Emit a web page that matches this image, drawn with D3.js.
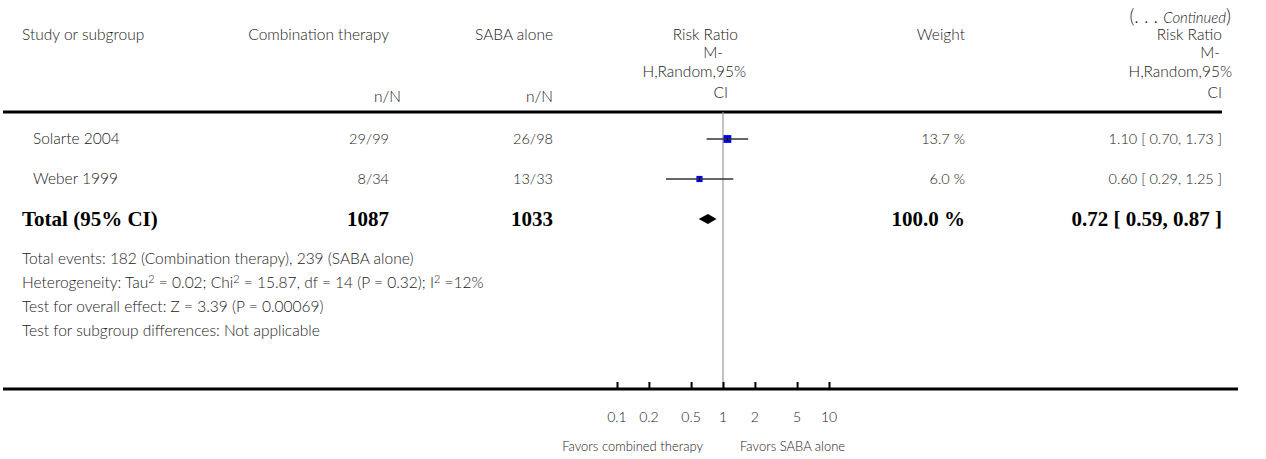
<!DOCTYPE html>
<html>
<head>
<meta charset="utf-8">
<script src="https://cdn.jsdelivr.net/npm/d3@7"></script>
<style>
  html, body { margin: 0; padding: 0; background: #fff; }
  svg { display: block; }
  .txt { font-family: Lato, "Open Sans", sans-serif; font-weight: 300; font-size: 15.5px; fill: #1a1a1a; }
  .num { font-size: 14.5px; }
  .bold { font-family: "Liberation Serif", "DejaVu Serif", serif; font-weight: bold; font-size: 21px; fill: #000; }
</style>
</head>
<body>
<svg id="chart" width="1266" height="459"></svg>
<script>
// Study rows
const studies = ["Solarte 2004", "Weber 1999"];
const comboEvents = ["29/99", "8/34"];
const sabaEvents = ["26/98", "13/33"];
const rr = [1.10, 0.60];
const rrLow = [0.70, 0.29];
const rrHigh = [1.73, 1.25];
const weights = [13.7, 6.0];

// Pooled estimate
const totalLabel = "Total (95% CI)";
const totalCombo = "1087";
const totalSaba = "1033";
const totalRR = 0.72;
const totalLow = 0.59;
const totalHigh = 0.87;
const totalWeight = 100.0;

// Footer notes (the ² marks a superscript)
const footnotes = [
  "Total events: 182 (Combination therapy), 239 (SABA alone)",
  "Heterogeneity: Tau\u00B2 = 0.02; Chi\u00B2 = 15.87, df = 14 (P = 0.32); I\u00B2 =12%",
  "Test for overall effect: Z = 3.39 (P = 0.00069)",
  "Test for subgroup differences: Not applicable"
];

// Axis
const tickValues = [0.1, 0.2, 0.5, 1, 2, 5, 10];
const tickLabels = ["0.1", "0.2", "0.5", "1", "2", "5", "10"];
const favorsLeft = "Favors combined therapy";
const favorsRight = "Favors SABA alone";

const svg = d3.select("#chart");

const x = d3.scaleLog().domain([0.01, 100]).range([511, 935]);
const rowY = d3.scalePoint().domain(d3.range(studies.length + 1)).range([139, 219]);

const colStudy = 33, colCombo = 389, colSaba = 553, colWeight = 965, colCI = 1222;

const fmt2 = d3.format(".2f");
const ciText = (m, l, h) => `${fmt2(m)} [ ${fmt2(l)}, ${fmt2(h)} ]`;

// Header
svg.append("text").attr("class", "txt").attr("x", 1231).attr("y", 23)
  .attr("text-anchor", "end").style("font-size", "19px")
  .html('(. . . <tspan style="font-style:italic;font-size:15px">Continued</tspan>)');

const head = svg.append("g").attr("class", "txt");
head.append("text").attr("x", 22).attr("y", 40).text("Study or subgroup");
head.append("text").attr("x", colCombo).attr("y", 40).attr("text-anchor", "end").text("Combination therapy");
head.append("text").attr("x", colSaba).attr("y", 40).attr("text-anchor", "end").text("SABA alone");
head.append("text").attr("x", colCombo + 12).attr("y", 102).attr("text-anchor", "end").text("n/N");
head.append("text").attr("x", colSaba).attr("y", 102).attr("text-anchor", "end").text("n/N");
head.append("text").attr("x", colWeight).attr("y", 40).attr("text-anchor", "end").text("Weight");

const rrHead = ["Risk Ratio", "M-", "H,Random,95%", "CI"];
const headLineY = [40, 58, 77, 98];
const midOffsets = [0, -15, 8, -10];
const rightOffsets = [0, -2, 10, 0];
rrHead.forEach((t, i) => {
  head.append("text").attr("x", 738 + midOffsets[i]).attr("y", headLineY[i])
    .attr("text-anchor", "end").text(t);
  head.append("text").attr("x", colCI + rightOffsets[i]).attr("y", headLineY[i])
    .attr("text-anchor", "end").text(t);
});

// Header rule
svg.append("line").attr("x1", 3).attr("x2", 1222).attr("y1", 112).attr("y2", 112)
  .attr("stroke", "#000").attr("stroke-width", 3);

// Line of no effect
svg.append("line").attr("x1", x(1)).attr("x2", x(1)).attr("y1", 112).attr("y2", 389)
  .attr("stroke", "#999").attr("stroke-width", 1.2);

// Study rows
studies.forEach((s, i) => {
  const y = rowY(i);
  const g = svg.append("g").attr("class", "txt");
  g.append("text").attr("x", colStudy).attr("y", y + 5).text(s);
  g.append("text").attr("class", "num").attr("x", colCombo).attr("y", y + 5).attr("text-anchor", "end").text(comboEvents[i]);
  g.append("text").attr("class", "num").attr("x", colSaba).attr("y", y + 5).attr("text-anchor", "end").text(sabaEvents[i]);
  g.append("text").attr("class", "num").attr("x", colWeight).attr("y", y + 5).attr("text-anchor", "end").text(d3.format(".1f")(weights[i]) + " %");
  g.append("text").attr("class", "num").attr("x", colCI).attr("y", y + 5).attr("text-anchor", "end").text(ciText(rr[i], rrLow[i], rrHigh[i]));

  const side = 3 + Math.sqrt(weights[i]) * 1.3;
  svg.append("rect")
    .attr("x", x(rr[i]) - side / 2).attr("y", y - side / 2)
    .attr("width", side).attr("height", side).attr("fill", "#0000ff");
  svg.append("line").attr("x1", x(rrLow[i])).attr("x2", x(rrHigh[i])).attr("y1", y).attr("y2", y)
    .attr("stroke", "#333").attr("stroke-width", 1.3);
  svg.append("line").attr("x1", x(rr[i])).attr("x2", x(rr[i])).attr("y1", y - 2).attr("y2", y + 2)
    .attr("stroke", "#000").attr("stroke-width", 1);
});

// Total row
const yT = rowY(studies.length);
const gT = svg.append("g").attr("class", "bold");
gT.append("text").attr("x", 22).attr("y", yT + 7).text(totalLabel);
gT.append("text").attr("x", colCombo).attr("y", yT + 7).attr("text-anchor", "end").text(totalCombo);
gT.append("text").attr("x", colSaba).attr("y", yT + 7).attr("text-anchor", "end").text(totalSaba);
gT.append("text").attr("x", colWeight).attr("y", yT + 7).attr("text-anchor", "end").text(d3.format(".1f")(totalWeight) + " %");
gT.append("text").attr("x", colCI).attr("y", yT + 7).attr("text-anchor", "end").text(ciText(totalRR, totalLow, totalHigh));

svg.append("path")
  .attr("d", `M${x(totalLow)},${yT} L${x(totalRR)},${yT - 5} L${x(totalHigh)},${yT} L${x(totalRR)},${yT + 5} Z`)
  .attr("fill", "#000");

// Footnotes, with the ² sign set as a raised small "2"
footnotes.forEach((t, i) => {
  const el = svg.append("text").attr("class", "txt").attr("x", 22).attr("y", 264 + i * 24);
  const parts = t.split("\u00B2");
  parts.forEach((p, j) => {
    el.append("tspan").attr("dy", j === 0 ? 0 : 5).text(p);
    if (j < parts.length - 1) {
      el.append("tspan").attr("dy", -5).style("font-size", "11px").text("2");
    }
  });
});

// Bottom axis
svg.append("line").attr("x1", 3).attr("x2", 1238).attr("y1", 389).attr("y2", 389)
  .attr("stroke", "#000").attr("stroke-width", 3);

const axis = d3.axisTop(x).tickValues(tickValues).tickSize(7).tickFormat("");
const ag = svg.append("g").attr("transform", "translate(0,389)").call(axis);
ag.select(".domain").remove();
ag.selectAll(".tick line").attr("stroke", "#000").attr("stroke-width", 2);

tickValues.forEach((v, i) => {
  svg.append("text").attr("class", "txt").attr("x", x(v)).attr("y", 422)
    .attr("text-anchor", "middle").style("font-size", "14px").text(tickLabels[i]);
});
svg.append("text").attr("class", "txt").attr("x", x(1) - 20).attr("y", 451)
  .attr("text-anchor", "end").style("font-size", "13px").text(favorsLeft);
svg.append("text").attr("class", "txt").attr("x", x(1) + 17).attr("y", 451)
  .style("font-size", "13px").text(favorsRight);
</script>
</body>
</html>
